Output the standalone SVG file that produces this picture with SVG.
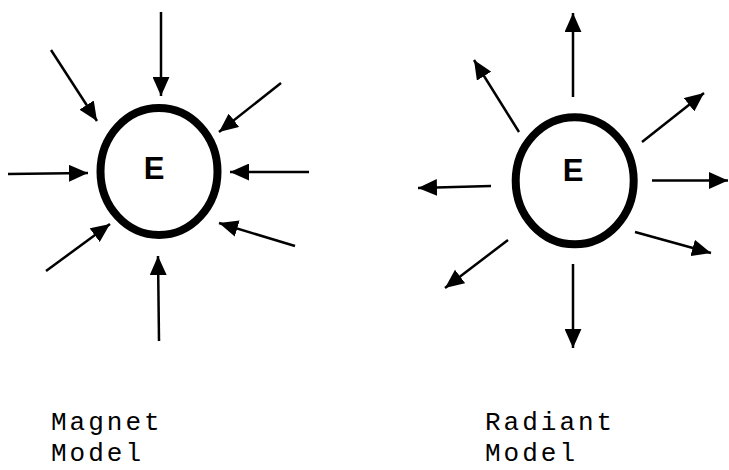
<svg xmlns="http://www.w3.org/2000/svg" width="729" height="470" viewBox="0 0 729 470">
<style>
.ring{fill:none;stroke:#000;stroke-width:8}
.lbl{font-family:"Liberation Sans",Arial,sans-serif;font-weight:bold;font-size:31px;fill:#000;text-anchor:middle}
.cap{font-family:"Liberation Mono","Courier New",monospace;font-size:26px;letter-spacing:3px;fill:#000}
.arr{stroke:#000;stroke-width:2.5;fill:none;marker-end:url(#ah)}
</style>
<defs>
<marker id="ah" markerUnits="userSpaceOnUse" markerWidth="19" markerHeight="17" refX="18" refY="8" orient="auto" viewBox="0 0 18 16">
<path d="M0,0 L18,8 L0,16 z" fill="#000"/>
</marker>
</defs>
<rect width="729" height="470" fill="#fff"/>
<g id="magnet">
<ellipse class="ring" cx="159" cy="171.5" rx="58.5" ry="63.5"/>
<text class="lbl" x="154" y="179">E</text>
</g>
<g id="radiant">
<ellipse class="ring" cx="574.7" cy="180.8" rx="59" ry="63.5"/>
<text class="lbl" x="573" y="181">E</text>
</g>
<g id="connectors">
<line class="arr" x1="161" y1="12" x2="161" y2="96"/>
<line class="arr" x1="51" y1="50" x2="97" y2="121"/>
<line class="arr" x1="281" y1="83" x2="219" y2="132"/>
<line class="arr" x1="8" y1="174" x2="88" y2="173"/>
<line class="arr" x1="309" y1="172" x2="230" y2="172"/>
<line class="arr" x1="46" y1="271" x2="110" y2="224"/>
<line class="arr" x1="295" y1="246" x2="219" y2="223"/>
<line class="arr" x1="159" y1="341" x2="158" y2="256"/>
<line class="arr" x1="573" y1="97" x2="573" y2="13"/>
<line class="arr" x1="519" y1="132" x2="474" y2="60"/>
<line class="arr" x1="642" y1="142" x2="704" y2="93"/>
<line class="arr" x1="491" y1="186" x2="418" y2="188"/>
<line class="arr" x1="652" y1="180.5" x2="728" y2="180.5"/>
<line class="arr" x1="635" y1="232" x2="711" y2="253"/>
<line class="arr" x1="508" y1="240" x2="445" y2="288"/>
<line class="arr" x1="573" y1="264" x2="573" y2="348"/>
</g>
<g id="captions">
<text class="cap" x="51" y="430">Magnet</text>
<text class="cap" x="51" y="461">Model</text>
<text class="cap" x="485" y="430">Radiant</text>
<text class="cap" x="485" y="461">Model</text>
</g>
</svg>
